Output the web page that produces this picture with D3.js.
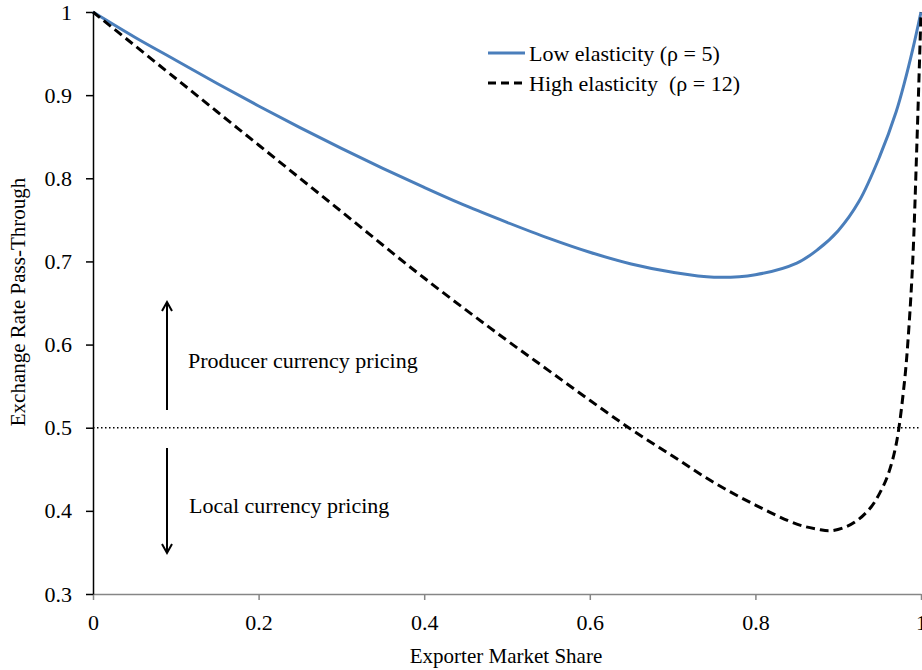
<!DOCTYPE html>
<html><head><meta charset="utf-8">
<script src="https://cdn.jsdelivr.net/npm/d3@7"></script>
<style>
html,body{margin:0;padding:0;background:#fff;}
svg{display:block;}
svg text{font-family:"Liberation Serif","Times New Roman",Times,"Nimbus Roman","DejaVu Serif",serif !important;}
</style></head>
<body>
<svg id="chart" width="922" height="670"></svg>
<script>
// ---- data ----
const lowX = [0,0.05,0.1,0.15,0.2,0.25,0.3,0.35,0.4,0.45,0.5,0.55,0.6,0.65,0.7,0.75,0.8,0.85,0.875,0.9,0.925,0.95,0.97,0.98,0.99,1.0];
const lowY = [1.000,0.970,0.942,0.914,0.887,0.861,0.836,0.812,0.789,0.767,0.747,0.728,0.711,0.697,0.687,0.681,0.684,0.698,0.714,0.737,0.772,0.826,0.880,0.915,0.955,1.000];
const highX = [0,0.1,0.2,0.3,0.4,0.5,0.55,0.6,0.65,0.7,0.75,0.8,0.85,0.875,0.89,0.91,0.925,0.94,0.95,0.96,0.97,0.98,0.985,0.99,0.995,1.0];
const highY = [1.000,0.920,0.840,0.760,0.680,0.605,0.569,0.533,0.498,0.466,0.434,0.407,0.384,0.378,0.376,0.381,0.390,0.405,0.421,0.443,0.480,0.555,0.615,0.700,0.840,1.000];
const xTicks = [0,0.2,0.4,0.6,0.8,1];
const xTickLabels = ["0","0.2","0.4","0.6","0.8","1"];
const yTicks = [0.3,0.4,0.5,0.6,0.7,0.8,0.9,1];
const yTickLabels = ["0.3","0.4","0.5","0.6","0.7","0.8","0.9","1"];
const seriesNames = ["Low elasticity (\u03C1 = 5)","High elasticity  (\u03C1 = 12)"];
const threshold = 0.5;
const annotations = ["Producer currency pricing","Local currency pricing"];
const xTitle = "Exporter Market Share";
const yTitle = "Exchange Rate Pass-Through";

// ---- layout ----
const svg = d3.select("#chart");
const L = 93, R = 921, T = 12, B = 594;
const x = d3.scaleLinear().domain([0,1]).range([L,R]);
const y = d3.scaleLinear().domain([0.3,1]).range([B,T]);
const FS = 22;

// x axis (gray)
const xAxis = svg.append("g").attr("transform",`translate(0,${B})`)
  .call(d3.axisBottom(x).tickValues(xTicks).tickFormat((d,i)=>xTickLabels[i]).tickSize(6).tickSizeOuter(0).tickPadding(14));
xAxis.attr("font-family",null);
xAxis.select(".domain").attr("stroke","#868686").attr("stroke-width",1.5);
xAxis.selectAll(".tick line").attr("stroke","#868686").attr("stroke-width",1.5);
xAxis.selectAll(".tick text").attr("font-size",FS).attr("fill","#000");

// y axis (black)
const yAxis = svg.append("g").attr("transform",`translate(${L},0)`)
  .call(d3.axisLeft(y).tickValues(yTicks).tickFormat((d,i)=>yTickLabels[i]).tickSize(7).tickSizeOuter(0).tickPadding(14));
yAxis.attr("font-family",null);
yAxis.select(".domain").attr("stroke","#000").attr("stroke-width",1.5);
yAxis.selectAll(".tick line").attr("stroke","#000").attr("stroke-width",1.5);
yAxis.selectAll(".tick text").attr("font-size",FS).attr("fill","#000");

// threshold dotted line
svg.append("line").attr("x1",x(0)).attr("x2",x(1)).attr("y1",y(threshold)).attr("y2",y(threshold))
  .attr("stroke","#000").attr("stroke-width",1.5).attr("stroke-dasharray","1.5,2.5");

// series
const line = d3.line().x(d=>x(d[0])).y(d=>y(d[1])).curve(d3.curveCatmullRom.alpha(0.5));
const lowData = lowX.map((v,i)=>[v,lowY[i]]);
const highData = highX.map((v,i)=>[v,highY[i]]);
svg.append("path").datum(lowData).attr("d",line).attr("fill","none")
  .attr("stroke","#4a7ebb").attr("stroke-width",3);
svg.append("path").datum(highData).attr("d",line).attr("fill","none")
  .attr("stroke","#000").attr("stroke-width",3).attr("stroke-dasharray","9,5");

// legend
const lg = svg.append("g");
lg.append("line").attr("x1",488).attr("x2",525).attr("y1",53).attr("y2",53).attr("stroke","#4a7ebb").attr("stroke-width",3);
lg.append("line").attr("x1",488).attr("x2",522).attr("y1",83).attr("y2",83).attr("stroke","#000").attr("stroke-width",3).attr("stroke-dasharray","8,5");
lg.append("text").attr("x",529).attr("y",61).attr("font-size",FS).attr("xml:space","preserve").style("white-space","pre").text(seriesNames[0]);
lg.append("text").attr("x",529).attr("y",91).attr("font-size",FS).attr("xml:space","preserve").style("white-space","pre").text(seriesNames[1]);

// arrows
function arrow(xp, y1, y2){
  svg.append("line").attr("x1",xp).attr("x2",xp).attr("y1",y1).attr("y2",y2).attr("stroke","#000").attr("stroke-width",2);
  const dir = y2<y1 ? 1 : -1;
  svg.append("path").attr("d",`M${xp-5},${y2+dir*9} L${xp},${y2} L${xp+5},${y2+dir*9}`)
    .attr("fill","none").attr("stroke","#000").attr("stroke-width",2);
}
arrow(167, 410, 302);
arrow(167, 448, 553);
svg.append("text").attr("x",188).attr("y",368).attr("font-size",FS).text(annotations[0]);
svg.append("text").attr("x",189).attr("y",513).attr("font-size",FS).text(annotations[1]);

// axis titles
svg.append("text").attr("x",506).attr("y",663).attr("text-anchor","middle").attr("font-size",21).text(xTitle);
svg.append("text").attr("transform",`translate(25,${302}) rotate(-90)`).attr("text-anchor","middle").attr("font-size",21).text(yTitle);
</script>
</body></html>
